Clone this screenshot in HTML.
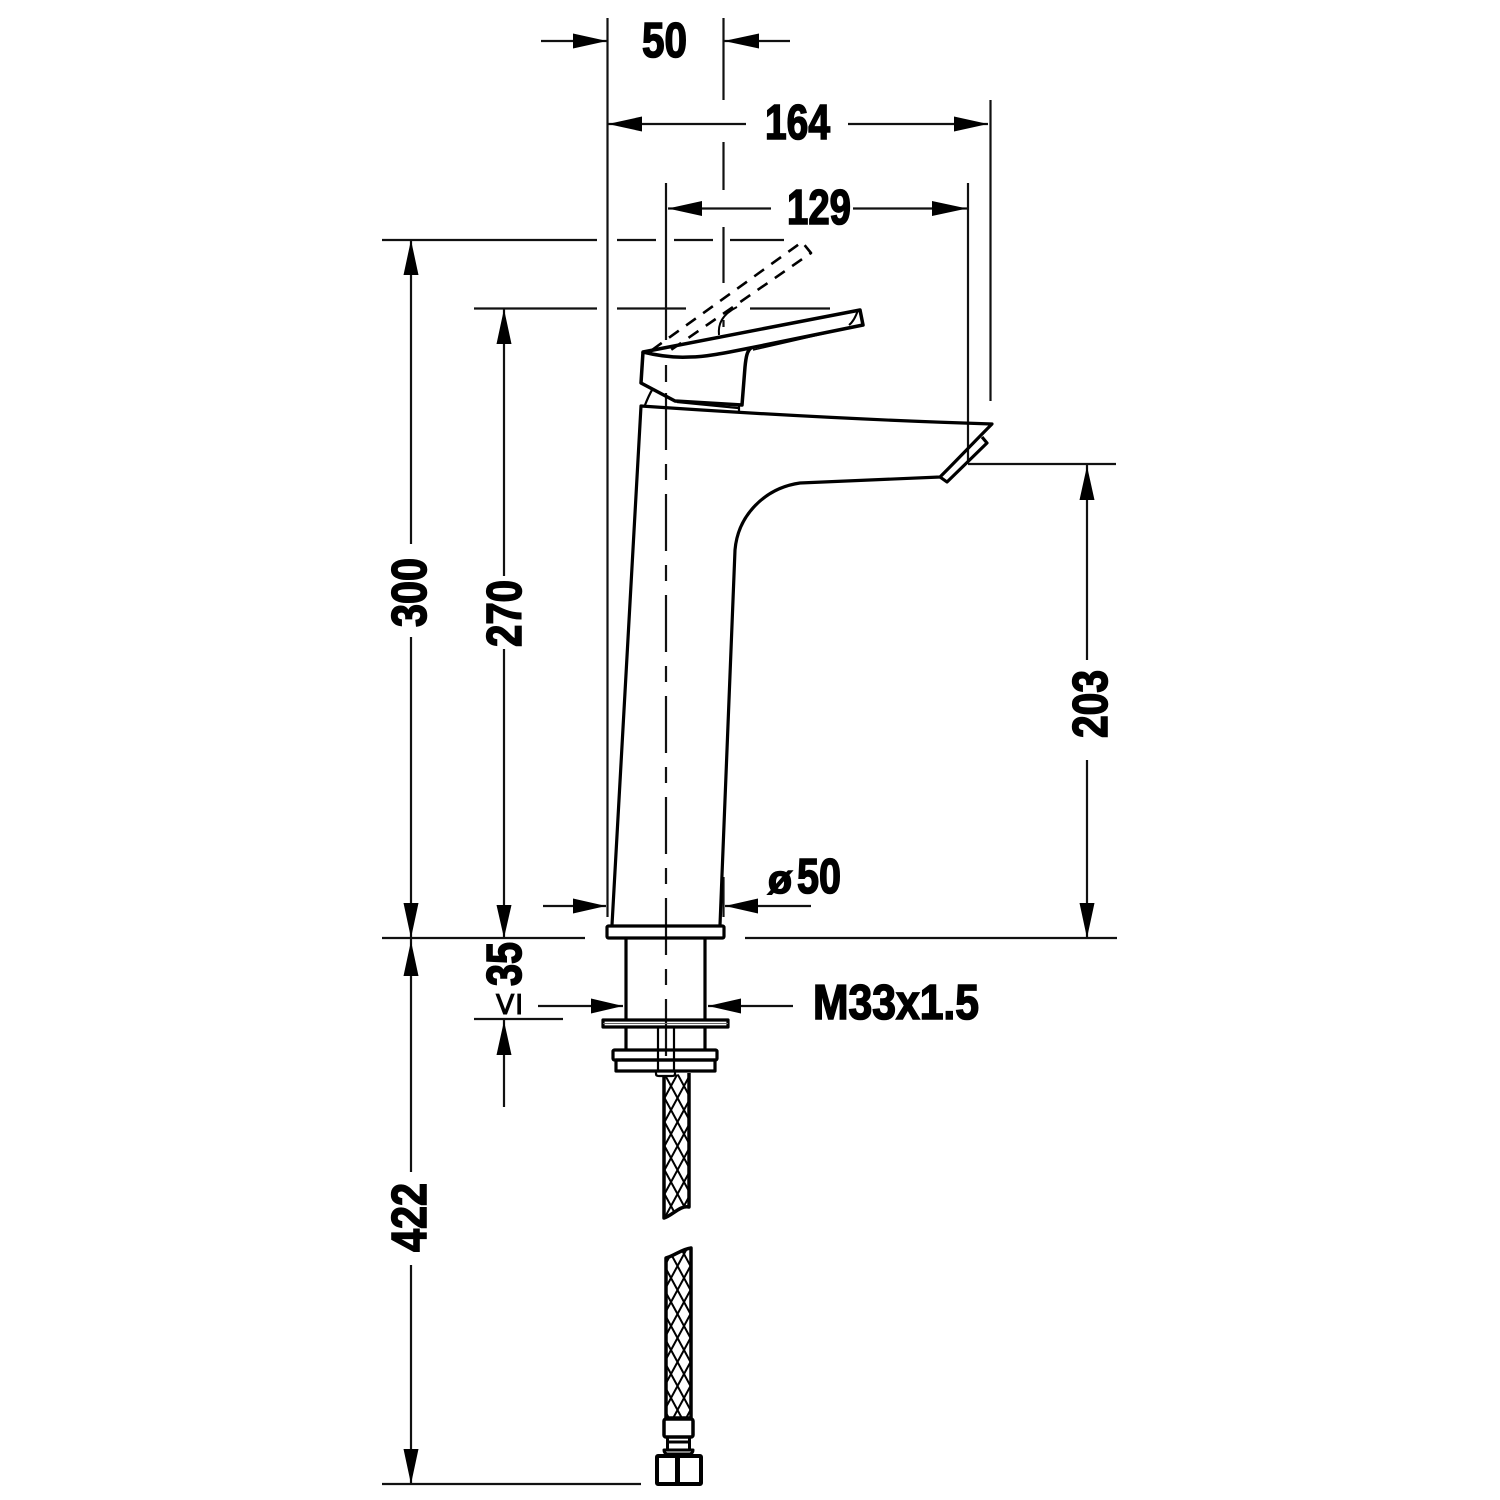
<!DOCTYPE html>
<html><head><meta charset="utf-8"><style>
html,body{margin:0;padding:0;background:#fff}
svg{display:block}
text{font-family:"Liberation Sans",sans-serif;font-weight:700;font-size:49px;fill:#000;stroke:#000;stroke-width:1.6px}
</style></head><body>
<svg width="1500" height="1500" viewBox="0 0 1500 1500" xmlns="http://www.w3.org/2000/svg">
<defs>
<pattern id="h" patternUnits="userSpaceOnUse" width="13" height="24" x="664.500" y="1074">
<path d="M0 0L13 24M13 0L0 24" stroke="#000" stroke-width="2" fill="none"/>
</pattern>
</defs>
<rect width="1500" height="1500" fill="#fff"/>
<!-- extension and dimension lines -->
<g stroke="#111" stroke-width="2.200" fill="none">
<path d="M607.500 18V917M723.500 18V100M723.500 142V190M723.500 227V283M723.500 320V327M723.500 877V917M666 183V340M968 183V464M990.500 100V401"/>
<path d="M382 240H597M617 240H656M674 240H713M730 240H784M474 308.500H597M617 308.500H686M750 308.500H830M382 938H585M745 938H1117M968 464H1116M474 1019H563M382 1484H641"/>
<path d="M411 240V544M411 637V938M411 938V1172M411 1265V1484M504 308V576M504 649V938M504 1019V1107M1087 464V660M1087 760V938"/>
<path d="M541 41H607M724 41H790M608 124H746M848 124H988M668 208.500H771M853 208.500H967M543 906H606M725 906H811M538 1006H623M708 1006H793"/>
<path d="M666 365V382M666 393V1062" stroke-dasharray="57 14 16 14" stroke-dashoffset="0"/>
</g>
<!-- arrowheads -->
<g fill="#000">
<path d="M607 41L573 33.500V48.500ZM724 41L759 33.500V48.500ZM608 124L642 116.500V131.500ZM988 124L954 116.500V131.500ZM668 208.500L702 201V216ZM967 208.500L932 201V216Z"/>
<path d="M606 906L573 898.500V913.500ZM725 906L758 898.500V913.500ZM623 1006L591 998.500V1013.500ZM708 1006L741 998.500V1013.500Z"/>
<path d="M411 240L403.500 275H418.500ZM411 938L403.500 903H418.500ZM411 941L403.500 976H418.500ZM411 1484L403.500 1449H418.500ZM504 309L496.500 344H511.500ZM504 938L496.500 905H511.500ZM504 1021L496.500 1055H511.500ZM1087 466L1079.500 500H1094.500ZM1087 938L1079.500 903H1094.500Z"/>
</g>
<!-- faucet -->
<g stroke="#000" stroke-width="3.200" fill="none" stroke-linejoin="round">
<path d="M612 925L641 406Q830 419 992 424C975 441 958 459 940 477L800 483C765 488 738 515 735 550L720 925"/>
<path d="M940 477L947 482L987 443L982 437"/>
<path d="M643 352L860 310L863 325L750 348C725 353 705 357 690 357C672 358 655 355 643 352Z" stroke-width="3.500"/>
<path d="M643 352L641 383L675 401L742 405L745 367C746 357 747 351 751 348" stroke-width="3.500"/>
<path d="M858 310C856 316 853 322 849 325" stroke-width="2"/>
<path d="M753 350L849 328" stroke-width="1.500"/>
<path d="M677 402L738 408M652 390C649 395 647 400 645 405M739 406V411" stroke-width="2.200"/>
<path d="M719 335C718 325 721 315 737 307" stroke-width="2"/>
<path d="M652 350L802 242L811 253L668 352" stroke-width="2.600" stroke-dasharray="12 9"/>
<rect x="607" y="926" width="117" height="12" rx="1.500"/>
<path d="M626 938V1019M705 938V1019M626 1028V1050M705 1028V1050"/>
<rect x="603" y="1020" width="125" height="7"/>
<path d="M603 1023.500H728" stroke="#666" stroke-width="1"/>
<path d="M658 1028V1071M674 1028V1071" stroke-width="2.200"/>
<rect x="613" y="1050" width="104" height="10" rx="1.500"/>
<rect x="616" y="1060" width="99" height="11"/>
<path d="M656 1071V1074Q656 1076 659 1076H672Q675 1076 675 1074V1071" stroke-width="2.200"/>
<path d="M664 1076V1218C672 1216 680 1205 689 1207V1073" fill="url(#h)" stroke-width="3.500"/>
<path d="M666 1258C674 1256 682 1249 691 1248V1418H666Z" fill="url(#h)" stroke-width="3.500"/>
<rect x="664" y="1419" width="29" height="18" rx="2" stroke-width="3.500"/>
<path d="M667.500 1437V1449M689.500 1437V1449M667 1442H690" stroke-width="3"/>
<path d="M664 1450H693Q693 1453 690 1454H667Q664 1453 664 1450Z" stroke-width="3"/>
<rect x="657" y="1456" width="44" height="28" rx="1" stroke-width="4"/>
<path d="M677.500 1456V1484" stroke-width="5"/>
</g>
<!-- labels -->
<text x="642" y="57" textLength="45" lengthAdjust="spacingAndGlyphs">50</text>
<text x="765" y="139" textLength="65" lengthAdjust="spacingAndGlyphs">164</text>
<text x="787" y="224" textLength="64" lengthAdjust="spacingAndGlyphs">129</text>
<text transform="translate(426 627) rotate(-90)" textLength="69" lengthAdjust="spacingAndGlyphs">300</text>
<text transform="translate(521 647) rotate(-90)" textLength="67" lengthAdjust="spacingAndGlyphs">270</text>
<text transform="translate(1107 738) rotate(-90)" textLength="68" lengthAdjust="spacingAndGlyphs">203</text>
<text transform="translate(426 1252) rotate(-90)" textLength="69" lengthAdjust="spacingAndGlyphs">422</text>
<text transform="translate(521 986) rotate(-90)" textLength="44" lengthAdjust="spacingAndGlyphs">35</text>
<text transform="translate(521 1018) rotate(-90)" textLength="28" lengthAdjust="spacingAndGlyphs" style="font-weight:400;stroke-width:0;font-size:44px;font-family:'DejaVu Sans',sans-serif">≤</text>
<text x="768" y="893" textLength="24" lengthAdjust="spacingAndGlyphs" style="font-size:40px">ø</text>
<text x="797" y="893" textLength="44" lengthAdjust="spacingAndGlyphs">50</text>
<text x="813" y="1019" textLength="166" lengthAdjust="spacingAndGlyphs">M33x1.5</text>
</svg>
</body></html>
